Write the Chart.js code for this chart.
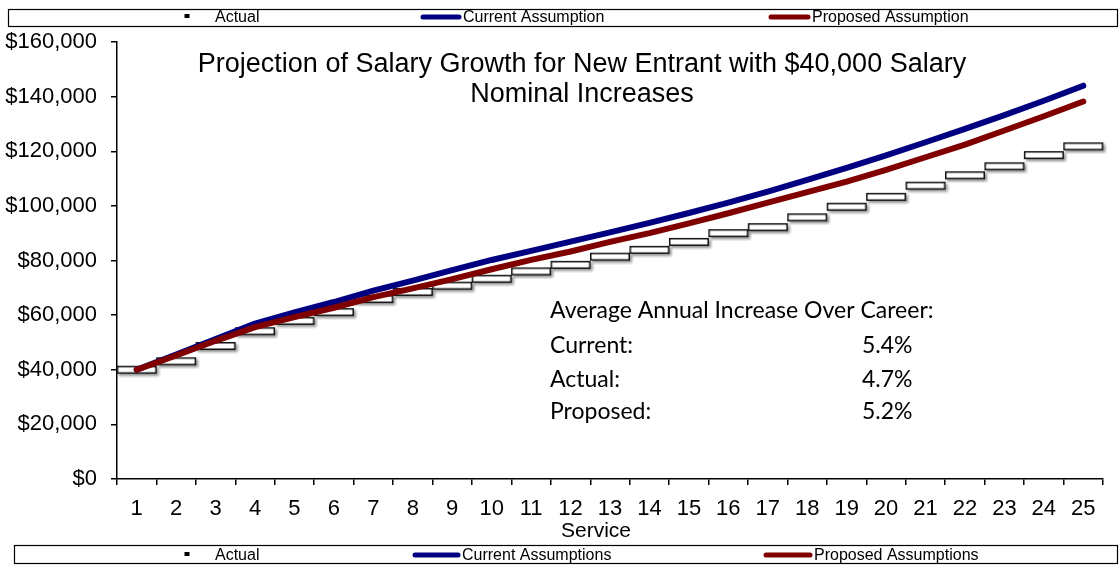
<!DOCTYPE html>
<html>
<head>
<meta charset="utf-8">
<script src="https://cdn.jsdelivr.net/npm/chart.js@4/dist/chart.umd.min.js"></script>
<style>
html,body{margin:0;padding:0;background:#fff;}
#wrap{width:1119px;height:565px;position:relative;}
</style>
</head>
<body>
<div id="wrap"><canvas id="c" width="1119" height="565"></canvas></div>
<script>
// ---------- DATA ----------
const serviceYears = ['1','2','3','4','5','6','7','8','9','10','11','12','13','14','15','16','17','18','19','20','21','22','23','24','25'];
const actualSalary = [40000,43100,48700,54100,57900,61100,65900,68500,70800,73300,76000,78400,81400,83900,86800,90000,92200,95800,99700,103300,107400,111200,114500,118600,121800];
const currentAssumption = [40000,45600,51200,56900,61000,64800,69000,72600,76500,80200,83500,86900,90300,93800,97400,101200,105200,109500,113900,118500,123300,128200,133200,138500,144000];
const proposedAssumption = [40000,45200,50600,55600,59300,62700,66600,69800,73200,76800,80200,83300,86800,90000,93600,97300,101200,105000,108900,113200,117800,122400,127600,132800,138200];
const yMin = 0, yMax = 160000, yStep = 20000;
const titleLines = ['Projection of Salary Growth for New Entrant with $40,000 Salary', 'Nominal Increases'];
const xAxisTitle = 'Service';
const topLegendLabels = ['Actual', 'Current Assumption', 'Proposed Assumption'];
const bottomLegendLabels = ['Actual', 'Current Assumptions', 'Proposed Assumptions'];
const careerHeading = 'Average Annual Increase Over Career:';
const careerLabels = ['Current:', 'Actual:', 'Proposed:'];
const careerRates = ['5.4%', '4.7%', '5.2%'];

// ---------- STYLE ----------
const NAVY = '#000080', MAROON = '#800000';
const SANS = "'Liberation Sans', Arial, sans-serif";
Chart.defaults.font.family = SANS;
Chart.defaults.color = '#000';

// step marker (white box with black border and soft shadow)
function makeStepMarker(w, h) {
  const pad = 4;
  const c = document.createElement('canvas');
  c.width = w + pad * 2; c.height = h + pad * 2;
  const g = c.getContext('2d');
  g.shadowColor = 'rgba(0,0,0,0.45)';
  g.shadowBlur = 3; g.shadowOffsetX = 2; g.shadowOffsetY = 2;
  g.fillStyle = '#fff';
  g.fillRect(pad, pad, w, h);
  g.shadowColor = 'transparent';
  g.strokeStyle = '#111';
  g.lineWidth = 1.5;
  g.strokeRect(pad + 0.75, pad + 0.75, w - 1.5, h - 1.5);
  return c;
}
const stepMarker = makeStepMarker(40, 8);

const decorPlugin = {
  id: 'decor',
  beforeDraw(chart) {
    const ctx = chart.ctx;
    ctx.save();
    ctx.fillStyle = '#fff';
    ctx.fillRect(0, 0, chart.width, chart.height);
    ctx.restore();
  },
  afterDraw(chart) {
    const ctx = chart.ctx;
    ctx.save();
    ctx.fillStyle = '#000';
    // Title
    ctx.font = '27px ' + SANS;
    ctx.textAlign = 'center';
    ctx.textBaseline = 'middle';
    ctx.fillText(titleLines[0], 582, 65);
    ctx.fillText(titleLines[1], 582, 95);
    // X axis title
    ctx.font = '21px ' + SANS;
    ctx.fillText(xAxisTitle, 596, 531);
    // Career annotation
    ctx.textAlign = 'left';
    ctx.font = "23px Lato, 'Open Sans', sans-serif";
    ctx.fillText(careerHeading, 550, 311);
    const rowsY = [346, 380, 412];
    careerLabels.forEach((l, i) => {
      ctx.fillText(l, 550, rowsY[i]);
      ctx.fillText(careerRates[i], 862, rowsY[i]);
    });
    // Legends
    const drawLegend = (labels, box, cy, items) => {
      ctx.strokeStyle = '#000';
      ctx.lineWidth = 1.2;
      ctx.strokeRect(box[0] + 0.5, box[1] + 0.5, box[2], box[3]);
      ctx.font = '16px ' + SANS;
      ctx.textBaseline = 'middle';
      ctx.textAlign = 'left';
      ctx.fillStyle = '#000';
      // Actual marker
      ctx.fillRect(items[0][0] - 2.5, cy - 3, 5, 4);
      ctx.fillText(labels[0], items[0][1], cy + 1);
      const colors = [NAVY, MAROON];
      for (let k = 1; k < 3; k++) {
        ctx.strokeStyle = colors[k - 1];
        ctx.lineWidth = 5;
        ctx.lineCap = 'round';
        ctx.beginPath();
        ctx.moveTo(items[k][0], cy);
        ctx.lineTo(items[k][1] - 4, cy);
        ctx.stroke();
        ctx.fillText(labels[k], items[k][1], cy + 1);
      }
    };
    drawLegend(topLegendLabels, [8, 9, 1109, 17], 17, [[187, 215], [423, 463], [771, 812]]);
    drawLegend(bottomLegendLabels, [14, 545, 1103, 18], 555, [[187, 215], [415, 462], [766, 814]]);
    ctx.restore();
  }
};

new Chart(document.getElementById('c'), {
  type: 'line',
  data: {
    labels: serviceYears,
    datasets: [
      {
        label: 'Proposed Assumption',
        data: proposedAssumption,
        borderColor: MAROON,
        backgroundColor: MAROON,
        borderWidth: 6,
        borderCapStyle: 'round',
        borderJoinStyle: 'round',
        pointRadius: 0,
        tension: 0,
        order: 0
      },
      {
        label: 'Current Assumption',
        data: currentAssumption,
        borderColor: NAVY,
        backgroundColor: NAVY,
        borderWidth: 6,
        borderCapStyle: 'round',
        borderJoinStyle: 'round',
        pointRadius: 0,
        tension: 0,
        order: 1
      },
      {
        label: 'Actual',
        data: actualSalary,
        showLine: false,
        pointStyle: stepMarker,
        pointRadius: 10,
        order: 2
      }
    ]
  },
  options: {
    responsive: false,
    animation: false,
    devicePixelRatio: 1,
    events: [],
    layout: { padding: { left: 0, right: 16, top: 42, bottom: 0 } },
    plugins: {
      legend: { display: false },
      tooltip: { enabled: false },
      title: { display: false }
    },
    scales: {
      x: {
        type: 'category',
        offset: true,
        grid: { offset: true, drawOnChartArea: false, tickLength: 6, color: '#000', lineWidth: 1.5 },
        border: { color: '#000', width: 1.5 },
        ticks: { font: { size: 22 }, color: '#000', padding: 11, maxRotation: 0, autoSkip: false },
        afterFit(s) { s.height = 86; }
      },
      y: {
        min: yMin,
        max: yMax,
        ticks: {
          stepSize: yStep,
          font: { size: 22 },
          color: '#000',
          padding: 14,
          callback: v => '$' + Number(v).toLocaleString('en-US')
        },
        grid: { drawOnChartArea: false, tickLength: 6, color: '#000', lineWidth: 1.5 },
        border: { color: '#000', width: 1.5 },
        afterFit(s) { s.width = 117; }
      }
    }
  },
  plugins: [decorPlugin]
});
</script>
</body>
</html>
